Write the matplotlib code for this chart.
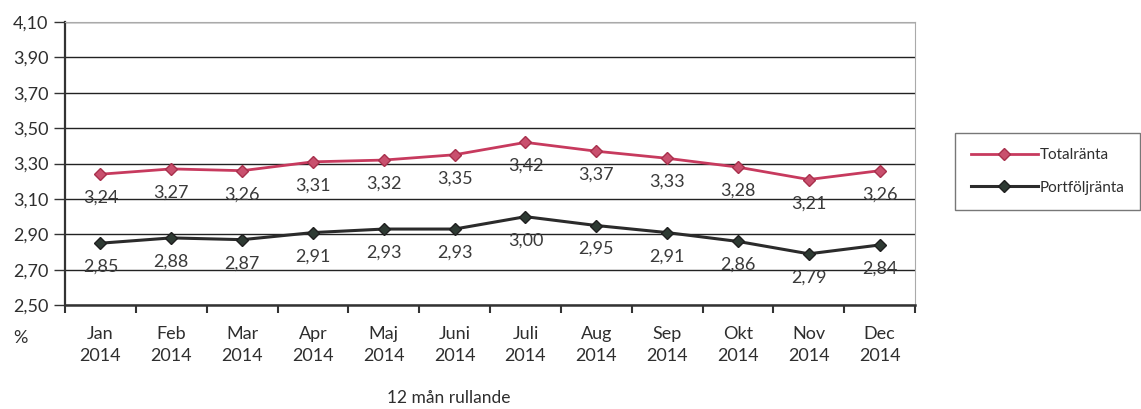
import matplotlib
matplotlib.use("Agg")
from matplotlib import pyplot as plt
import numpy as np

months = ["Jan", "Feb", "Mar", "Apr", "Maj", "Juni", "Juli", "Aug", "Sep", "Okt", "Nov", "Dec"]
year = "2014"
totalranta = [3.24, 3.27, 3.26, 3.31, 3.32, 3.35, 3.42, 3.37, 3.33, 3.28, 3.21, 3.26]
portfoljranta = [2.85, 2.88, 2.87, 2.91, 2.93, 2.93, 3.00, 2.95, 2.91, 2.86, 2.79, 2.84]
y_ticks = [2.50, 2.70, 2.90, 3.10, 3.30, 3.50, 3.70, 3.90, 4.10]


def sv(v):
    return f"{v:.2f}".replace(".", ",")


plt.rcParams["font.family"] = ["Lato", "DejaVu Sans"]
fig = plt.figure(figsize=(11.41, 4.09), dpi=100)
ax = fig.add_axes([0.057, 0.254, 0.745, 0.692])

x = np.arange(len(months))
red = "#c73a5e"
dark = "#2b2b2b"
txt = "#2e2e2e"

ax.plot(x, totalranta, color=red, lw=2, marker="D", ms=6.5,
        markerfacecolor="#c9506e", markeredgecolor="#a8304c", label="Totalränta", zorder=3)
ax.plot(x, portfoljranta, color=dark, lw=2.2, marker="D", ms=6.5,
        markerfacecolor="#2e3a33", markeredgecolor="#1f1f1f", label="Portföljränta", zorder=3)

for xi, v in zip(x, totalranta):
    ax.annotate(sv(v), (xi, v), xytext=(0, -17), textcoords="offset points",
                ha="center", va="center", fontsize=13, color="#3a3a3a")
for xi, v in zip(x, portfoljranta):
    ax.annotate(sv(v), (xi, v), xytext=(0, -17), textcoords="offset points",
                ha="center", va="center", fontsize=13, color="#3a3a3a")

ax.set_xlim(-0.5, len(months) - 0.5)
ax.set_ylim(2.50, 4.10)
ax.set_yticks(y_ticks)
ax.set_yticklabels([sv(t) for t in y_ticks], fontsize=13, color=txt)
for t in y_ticks:
    ax.axhline(t, color="#222222", lw=1.0, zorder=1)

ax.set_xticks(np.arange(len(months) + 1) - 0.5)
ax.set_xticklabels([])
ax.set_xticks(x, minor=True)
ax.set_xticklabels([f"{m}\n{year}" for m in months], minor=True,
                   fontsize=13, color=txt, linespacing=1.45)
ax.tick_params(axis="x", which="minor", length=0, pad=15)
ax.tick_params(axis="x", which="major", length=6, width=1.5, color="#333333", direction="out")
ax.tick_params(axis="y", length=8, width=1, color="#333333", pad=4)

for side in ["top", "right"]:
    ax.spines[side].set_color("#aaaaaa")
    ax.spines[side].set_linewidth(0.8)
ax.spines["left"].set_color("#333333")
ax.spines["left"].set_linewidth(1.6)
ax.spines["bottom"].set_color("#333333")
ax.spines["bottom"].set_linewidth(1.8)

fig.text(0.012, 0.173, "%", fontsize=13, color=txt, ha="left", va="center")
fig.text(0.393, 0.027, "12 mån rullande", fontsize=12.5, color=txt, ha="center", va="center")

leg = fig.legend(loc="center", bbox_to_anchor=(0.918, 0.581), fontsize=11,
                 frameon=True, fancybox=False, handlelength=4.4, labelspacing=1.2,
                 borderpad=1.0, handletextpad=0.1, borderaxespad=0)
for t in leg.get_texts():
    t.set_color(txt)
leg.get_frame().set_edgecolor("#555555")
leg.get_frame().set_linewidth(1)

fig.savefig("out.png", dpi=100)
